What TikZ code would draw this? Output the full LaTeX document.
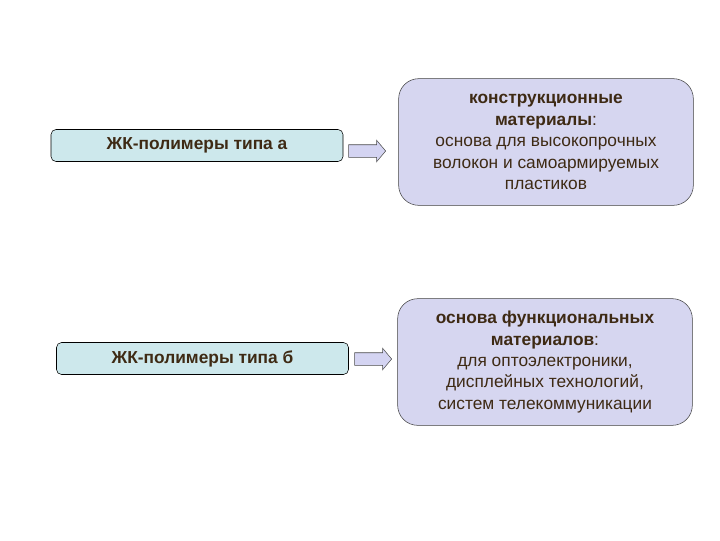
\documentclass[tikz,border=0pt]{standalone}
\usepackage{fontspec}
\setmainfont{Liberation Sans}
\usepackage{xcolor}
\usetikzlibrary{positioning,shapes.arrows}

\definecolor{txtbrown}{RGB}{62,42,20}
\definecolor{typefill}{RGB}{205,232,236}
\definecolor{usefill}{RGB}{214,214,240}
\definecolor{arrowfill}{RGB}{212,212,242}

\begin{document}
\begin{tikzpicture}[x=0.75pt,y=-0.75pt,
  every node/.style={font=\fontsize{13}{16.1}\selectfont,text=txtbrown},
  typebox/.style={draw=black,fill=typefill,rounded corners=3.75pt,
    minimum width=219pt,minimum height=24pt,inner sep=0pt,font=\fontsize{13}{16.1}\selectfont\bfseries},
  usebox/.style={draw=black!75,fill=usefill,rounded corners=15pt,
    minimum width=221pt,minimum height=95pt,align=center,inner sep=0pt},
  blockarrow/.style={single arrow,draw=black!70,fill=arrowfill,inner xsep=0pt,inner ysep=4.5pt,
    minimum height=27.75pt,single arrow head extend=3.4pt,
    single arrow tip angle=100}]
  \useasboundingbox (0,0) rectangle (720,540);
  % left column: polymer types
  \node[typebox] (typa) at (197,145.5) {ЖК-полимеры типа а};
  \node[typebox] (typb) at (202.5,358.5) {ЖК-полимеры типа б};
  % right column: where they are used
  \node[usebox] (usea) at (546,142)
    {\textbf{конструкционные}\\\textbf{материалы}:\\основа для высокопрочных\\волокон и самоармируемых\\пластиков};
  \node[usebox] (useb) at (545,362)
    {\textbf{основа функциональных}\\\textbf{материалов}:\\для оптоэлектроники,\\дисплейных технологий,\\систем телекоммуникации};
  % block arrows in the gaps
  \node[blockarrow] (arra) at (364.5,151) {};
  \node[blockarrow] (arrb) at (370.5,359) {};
\end{tikzpicture}
\end{document}
